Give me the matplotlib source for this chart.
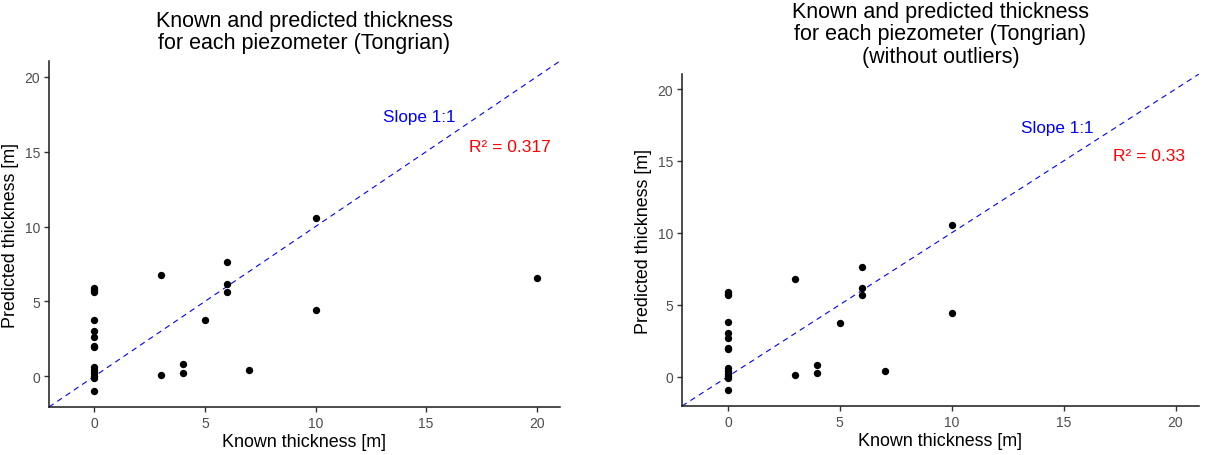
import matplotlib
matplotlib.use("Agg")
import matplotlib.pyplot as plt
import numpy as np

plt.rcParams['font.family'] = ['Liberation Sans', 'DejaVu Sans']

# Known vs predicted thickness per piezometer (Tongrian layer), in metres
known_thickness = [0, 0, 0, 0, 0, 0, 0, 0, 0, 0, 0, 0, 0, 0,
                   3, 3, 4, 4, 5, 6, 6, 6, 7, 10, 10, 20]
predicted_thickness = [5.90, 5.75, 5.65, 3.78, 3.00, 2.65, 2.02, 1.95,
                       0.62, 0.40, 0.20, 0.05, -0.12, -0.95,
                       6.78, 0.11, 0.82, 0.24, 3.73, 7.65, 6.16, 5.65,
                       0.42, 10.56, 4.43, 6.58]
outlier_known = [20]

r2_all = 0.317
r2_clean = 0.33

titles = ["Known and predicted thickness\nfor each piezometer (Tongrian)",
          "Known and predicted thickness\nfor each piezometer (Tongrian)\n(without outliers)"]
x_label = "Known thickness [m]"
y_label = "Predicted thickness [m]"
ticks = [0, 5, 10, 15, 20]

W, H = 1207, 456
fig = plt.figure(figsize=(W / 100, H / 100), dpi=100)


def px_axes(x0, x1, top, bottom):
    return fig.add_axes([x0 / W, (H - bottom) / H, (x1 - x0) / W, (bottom - top) / H])


def draw_panel(ax, xs, ys, title, r2):
    lim = (-2.05, 21.05)
    ax.set_xlim(lim)
    ax.set_ylim(lim)
    ax.scatter(xs, ys, s=28, color='black', zorder=3, linewidths=0)
    ax.axline((0, 0), slope=1, color='blue', lw=0.8, dashes=(5, 4), zorder=2)
    ax.text(14.7, 17.35, "Slope 1:1", color='blue', fontsize=12.3, ha='center', va='center')
    ax.text(18.8, 15.35, f"R² = {r2}", color='red', fontsize=12.5, ha='center', va='center')
    ax.set_xticks(ticks)
    ax.set_yticks(ticks)
    ax.tick_params(axis='both', colors='#333333', labelcolor='#4D4D4D',
                   labelsize=10, length=3.5, width=1.0, pad=3)
    for side in ('top', 'right'):
        ax.spines[side].set_visible(False)
    for side in ('left', 'bottom'):
        ax.spines[side].set_linewidth(1.1)
        ax.spines[side].set_color('#1a1a1a')
    ax.set_xlabel(x_label, fontsize=12.9, labelpad=2)
    ax.set_ylabel(y_label, fontsize=12.9, labelpad=4)
    ax.set_title(title, fontsize=15.5, linespacing=1.08, pad=9)


ax1 = px_axes(49, 560, 62, 408)
draw_panel(ax1, known_thickness, predicted_thickness, titles[0], r2_all)

keep = [i for i, k in enumerate(known_thickness) if k not in outlier_known]
ax2 = px_axes(682, 1199, 75, 407)
draw_panel(ax2, [known_thickness[i] for i in keep],
           [predicted_thickness[i] for i in keep], titles[1], r2_clean)

fig.savefig("out.png", dpi=100)
